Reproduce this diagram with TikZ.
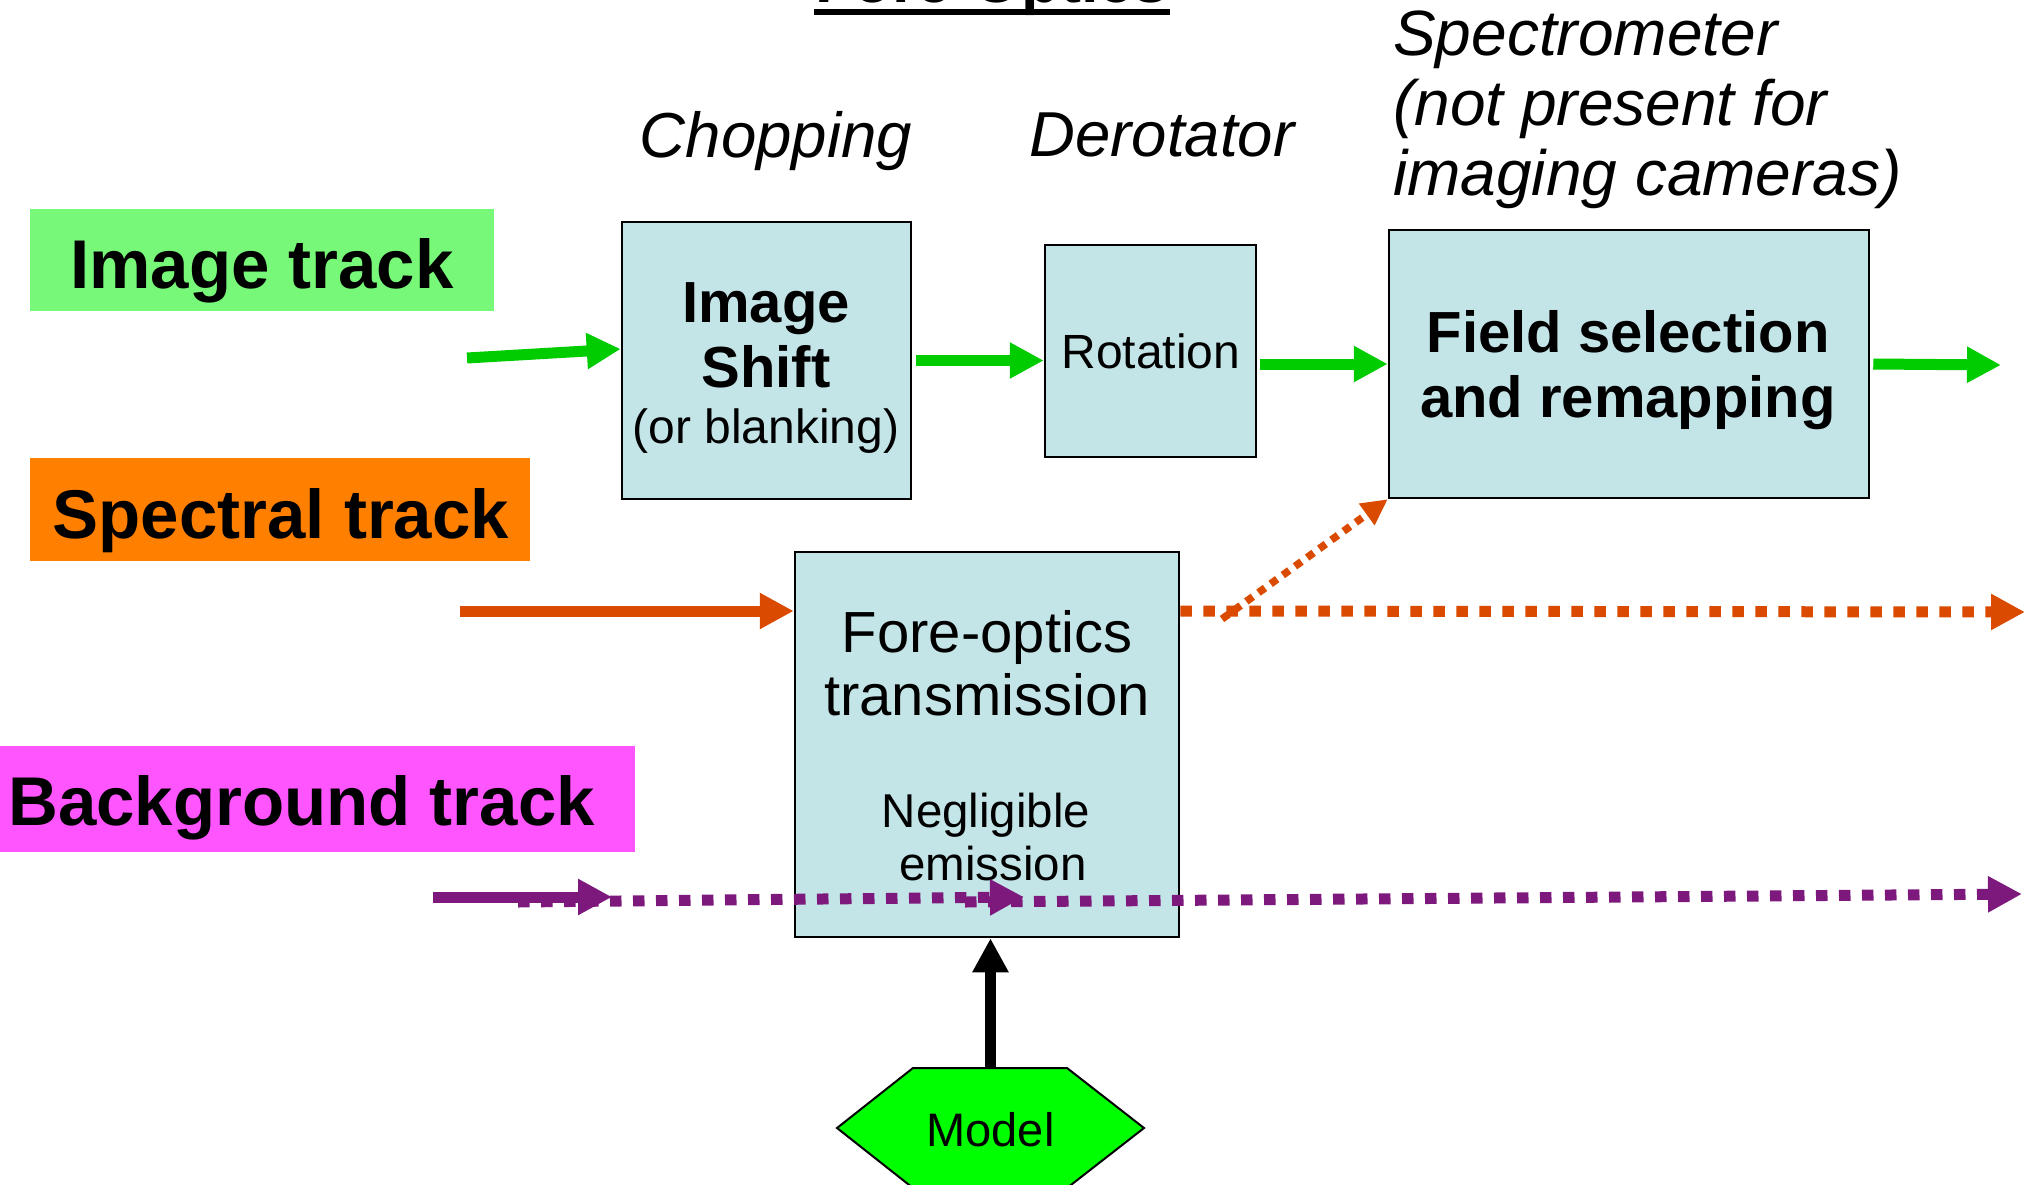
\documentclass[tikz,border=0pt]{standalone}
\usepackage{fontspec}
\setmainfont{Liberation Sans}
\usetikzlibrary{arrows.meta,calc}

\definecolor{boxfill}{RGB}{196,229,232}
\definecolor{imggreen}{RGB}{120,248,120}
\definecolor{specorange}{RGB}{255,128,0}
\definecolor{bgmagenta}{RGB}{255,85,255}
\definecolor{flowgreen}{RGB}{0,204,0}
\definecolor{flowred}{RGB}{218,74,0}
\definecolor{flowpurple}{RGB}{125,25,125}
\definecolor{modelgreen}{RGB}{0,255,0}

\newcommand\fsz[1]{\fontsize{#1}{#1}\selectfont}

\tikzset{
  stage/.style={draw=black, line width=2.5pt, fill=boxfill, inner sep=0pt},
  tag/.style={inner sep=0pt},
  txt/.style={inner sep=0pt, anchor=base},
  flow/.style={line width=11pt, -{Triangle[length=34pt,width=34pt]}},
  dots/.style={dash pattern=on 11.5pt off 11.5pt},
}

\begin{document}
\begin{tikzpicture}[x=1pt,y=-1pt]
\useasboundingbox (0,0) rectangle (2032,1184);
\clip (0,0) rectangle (2032,1184);
\fill[white] (0,0) rectangle (2032,1184);

% section title (mostly above the frame) and its underline
\node[txt, font=\bfseries\fsz{63}] (title) at (992,2) {Fore-Optics};
\fill (814,9) rectangle (1170,15);

% track labels
\node[tag, fill=imggreen, minimum width=464pt, minimum height=102pt] (imgtag) at (262,260) {};
\node[txt, font=\bfseries\fsz{69}] (imgtxt) at (262,288) {Image track};
\node[tag, fill=specorange, minimum width=500pt, minimum height=103pt] (spectag) at (280,509.5) {};
\node[txt, font=\bfseries\fsz{69}] (spectxt) at (281,538) {Spectral track};
\node[tag, fill=bgmagenta, minimum width=635pt, minimum height=106pt] (bgtag) at (317.5,799) {};
\node[txt, anchor=base west, font=\bfseries\fsz{69}] (bgtxt) at (8,825) {Background track};

% stage headings
\node[txt, font=\itshape\fsz{63.6}] (chop) at (776,157) {Chopping};
\node[txt, font=\itshape\fsz{63.5}] (derot) at (1162,156) {Derotator};
\node[txt, anchor=base west, font=\itshape\fsz{64}] (spec1) at (1393,55) {Spectrometer};
\node[txt, anchor=base west, font=\itshape\fsz{64}] (spec2) at (1393,125) {(not present for};
\node[txt, anchor=base west, font=\itshape\fsz{64}] (spec3) at (1393,195) {imaging cameras)};

% processing stages
\node[stage, minimum width=289pt, minimum height=277pt] (shift) at (766.5,360.5) {};
\node[txt, font=\bfseries\fsz{58}] at (766,322) {Image};
\node[txt, font=\bfseries\fsz{58}] at (766,387) {Shift};
\node[txt, font=\fsz{48}] at (766,443) {(or blanking)};

\node[stage, minimum width=211pt, minimum height=212pt] (rot) at (1150.5,351) {};
\node[txt, font=\fsz{48}] at (1151,368) {Rotation};

\node[stage, minimum width=480pt, minimum height=268pt] (field) at (1629,364) {};
\node[txt, font=\bfseries\fsz{58}] at (1628,352) {Field selection};
\node[txt, font=\bfseries\fsz{58}] at (1628,417) {and remapping};

\node[stage, minimum width=384pt, minimum height=385pt] (fore) at (987,744.5) {};
\node[txt, font=\fsz{58}] at (987,652) {Fore-optics};
\node[txt, font=\fsz{58}] at (987,715) {transmission};
\node[txt, font=\fsz{47.5}] at (986,827) {Negligible};
\node[txt, font=\fsz{47.5}] at (993,880) {emission};

% model input
\node[inner sep=0pt, minimum width=307pt, minimum height=120pt] (model) at (990.5,1128) {};
\filldraw[fill=modelgreen, draw=black, line width=2pt]
  (913,1068) -- (1067,1068) -- (1144,1128) -- (1067,1188) -- (913,1188) -- (837,1128) -- cycle;
\node[txt, font=\fsz{47}] (modeltxt) at (990.5,1146) {Model};

% image track flow
\coordinate (gin) at (467,358);
\coordinate (gout) at (2001,365);
\draw[flow, flowgreen] (gin) -- ([yshift=11.5pt]shift.west);
\draw[flow, flowgreen] ([xshift=4pt]shift.east) -- (rot.west |- shift.east);
\draw[flow, flowgreen] ([xshift=3pt]rot.east |- field.west) -- (field.west);
\draw[flow, flowgreen] ([xshift=3pt]field.east) -- (gout);

% spectral track flow
\coordinate (sin) at (460,611);
\coordinate (sout) at (2025,612);
\coordinate (sbranch) at (1222,619);
\draw[flow, flowred] (sin) -- (fore.west |- sin);
\draw[flow, flowred, dots] (fore.east |- sin) -- (sout);
\draw[line width=7.5pt, flowred, dash pattern=on 8pt off 7pt,
      -{Triangle[length=26pt,width=25pt]}] (sbranch) -- (field.south west);

% background track flow
\coordinate (bin) at (433,897);
\coordinate (bmid) at (612,897);
\coordinate (bdots) at (518,902);
\coordinate (bhead) at (1024,897);
\coordinate (bcont) at (965,902);
\coordinate (bout) at (2022,894);
\draw[flow, flowpurple, dots] (bcont) -- (bout);
\draw[flow, flowpurple, dots] (bdots) -- (bhead);
\draw[flow, flowpurple] (bin) -- (bmid);

% model feeds the fore-optics
\draw[flow, black] (model.north) -- (fore.south -| model.north);
\end{tikzpicture}
\end{document}
